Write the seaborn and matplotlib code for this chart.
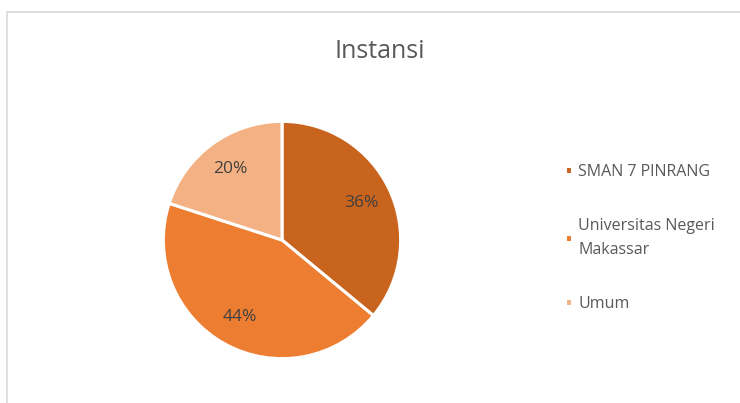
import matplotlib
matplotlib.use("Agg")
import matplotlib.pyplot as plt
import matplotlib.patches as mpatches
import seaborn as sns

# data
categories = ["SMAN 7 PINRANG", "Universitas Negeri\nMakassar", "Umum"]
shares = [36, 44, 20]
colors = ["#C8641E", "#ED7D31", "#F4B183"]
title = "Instansi"

sns.set_theme(style="white")
plt.rcParams["font.family"] = ["Open Sans", "DejaVu Sans"]

fig = plt.figure(figsize=(7.4, 4.03), dpi=100)
fig.patch.set_facecolor("white")

# light chart-area border (top and left visible, others run off the image)
border = mpatches.Rectangle((7 / 740, -0.1), 1.2, 1 - 12 / 403 + 0.1,
                            transform=fig.transFigure, fill=False,
                            edgecolor="#D9D9D9", linewidth=1.2)
fig.patches.append(border)

cx, cy, r = 282, 403 - 240, 121
ax = fig.add_axes([(cx - r) / 740, (cy - r) / 403, 2 * r / 740, 2 * r / 403])
wedges, texts, autotexts = ax.pie(
    shares,
    colors=colors,
    startangle=90,
    counterclock=False,
    autopct="%d%%",
    pctdistance=0.74,
    wedgeprops=dict(edgecolor="white", linewidth=2.2),
    textprops=dict(color="#404040", fontsize=12.5),
)
ax.set_xlim(-1.02, 1.02)
ax.set_ylim(-1.02, 1.02)

fig.text(380 / 740, 1 - 51 / 403, title, ha="center", va="center",
         fontsize=18, color="#595959")

leg = fig.legend(wedges, categories, loc="upper left",
                 bbox_to_anchor=(565 / 740, 1 - 164 / 403),
                 frameon=False, fontsize=11.5, labelcolor="#595959",
                 handlelength=0.42, handleheight=0.42, handletextpad=0.4,
                 labelspacing=2.4, borderpad=0, borderaxespad=0)
for t in leg.get_texts():
    t.set_linespacing(1.6)

fig.savefig("out.png", dpi=100, facecolor="white")
